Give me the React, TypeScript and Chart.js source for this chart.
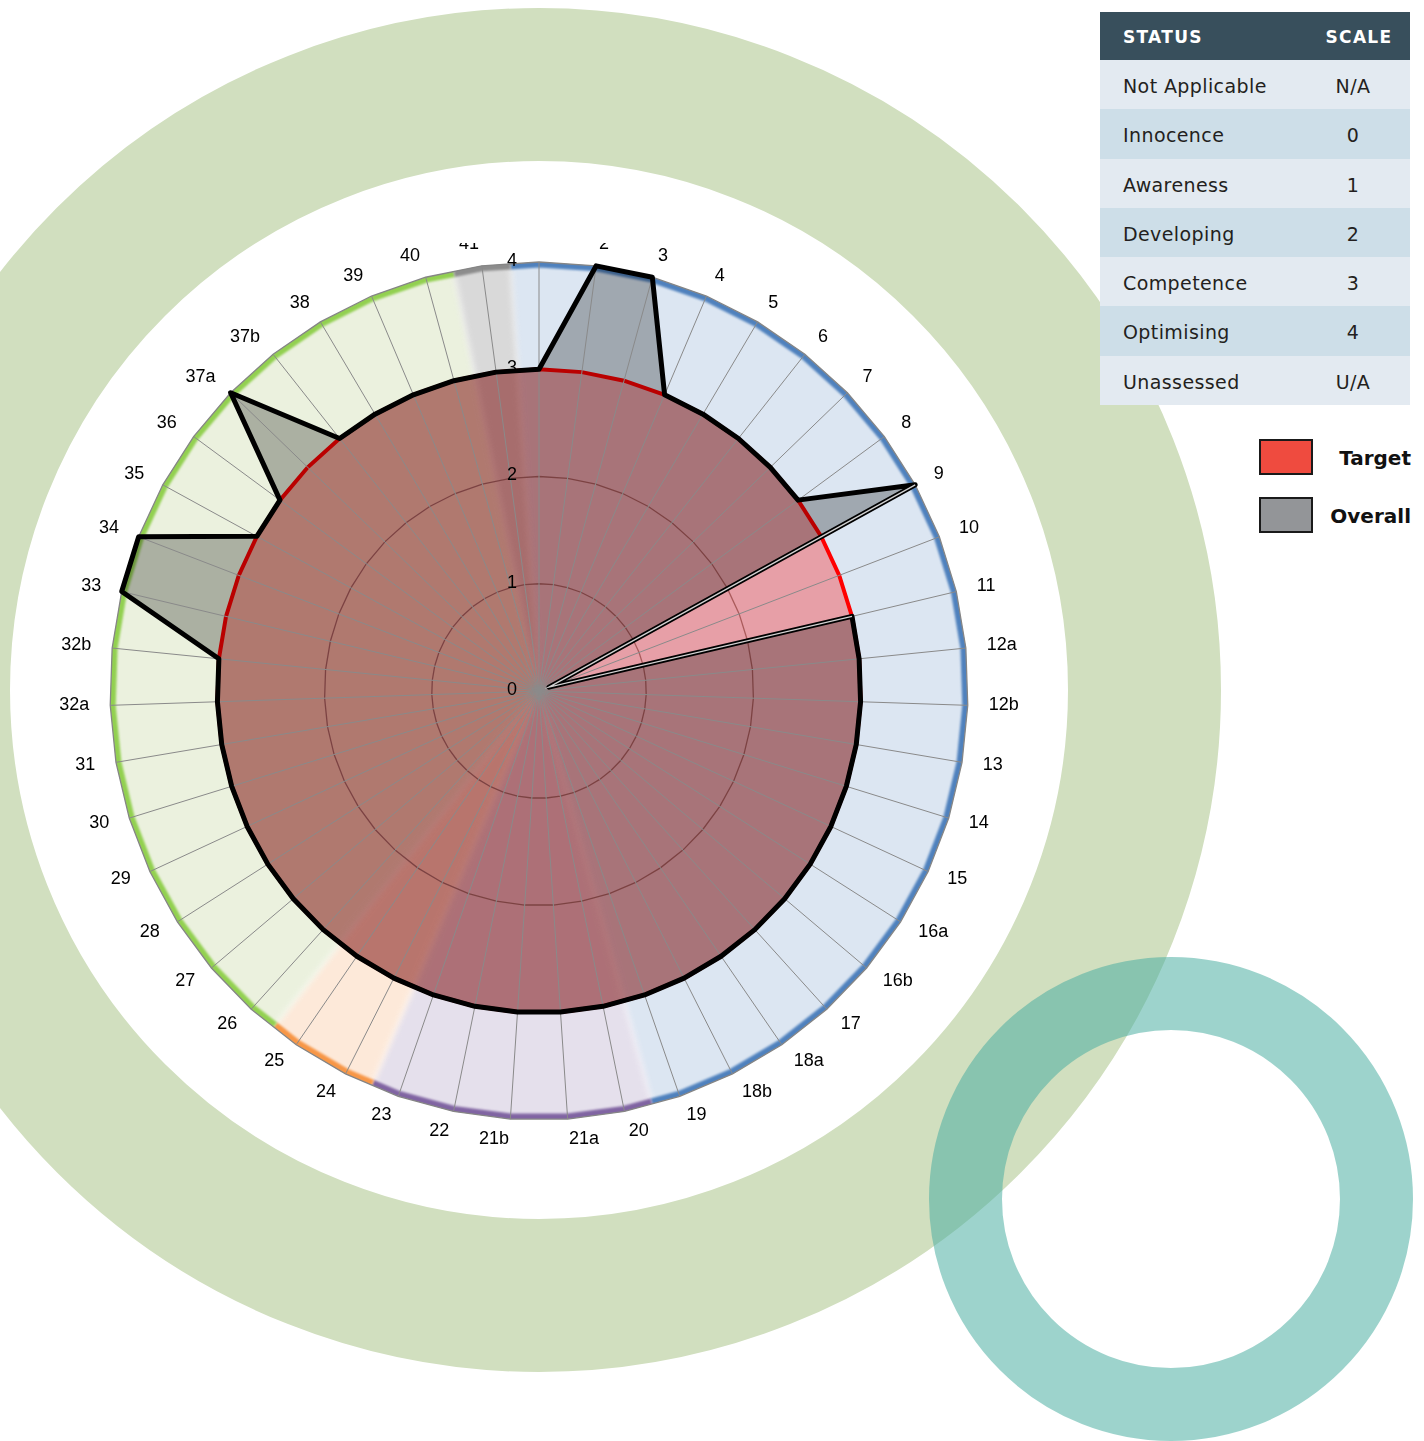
import React, { useEffect, useRef } from 'react';
import { Chart, registerables } from 'chart.js';

Chart.register(...registerables);

// ---------- data ----------
const categories = [
  '1', '2', '3', '4', '5', '6', '7', '8', '9', '10',
  '11', '12a', '12b', '13', '14', '15', '16a', '16b', '17', '18a',
  '18b', '19', '20', '21a', '21b', '22', '23', '24', '25', '26',
  '27', '28', '29', '30', '31', '32a', '32b', '33', '34', '35',
  '36', '37a', '37b', '38', '39', '40', '41',
];

const sections = [
  'blue', 'blue', 'blue', 'blue', 'blue', 'blue', 'blue', 'blue', 'blue', 'blue',
  'blue', 'blue', 'blue', 'blue', 'blue', 'blue', 'blue', 'blue', 'blue', 'blue',
  'blue', 'blue', 'purple', 'purple', 'purple', 'purple', 'purple', 'orange', 'orange', 'green',
  'green', 'green', 'green', 'green', 'green', 'green', 'green', 'green', 'green', 'green',
  'green', 'green', 'green', 'green', 'green', 'green', 'gray',
];

const targetValues = [
  3, 3, 3, 3, 3, 3, 3, 3, 3, 3,
  3, 3, 3, 3, 3, 3, 3, 3, 3, 3,
  3, 3, 3, 3, 3, 3, 3, 3, 3, 3,
  3, 3, 3, 3, 3, 3, 3, 3, 3, 3,
  3, 3, 3, 3, 3, 3, 3,
];

const overallValues = [
  3, 4, 4, 3, 3, 3, 3, 3, 4, 0.1,
  3, 3, 3, 3, 3, 3, 3, 3, 3, 3,
  3, 3, 3, 3, 3, 3, 3, 3, 3, 3,
  3, 3, 3, 3, 3, 3, 3, 4, 4, 3,
  3, 4, 3, 3, 3, 3, 3,
];

// segments of the Overall line that are drawn as a double line
const doubleLineIdx = [8, 9, 10];

const tickValues = [0, 1, 2, 3, 4];

const statusNames = ['Not Applicable', 'Innocence', 'Awareness', 'Developing', 'Competence', 'Optimising', 'Unassessed'];
const statusScales = ['N/A', '0', '1', '2', '3', '4', 'U/A'];

const legendNames = ['Target', 'Overall'];
const legendColors = ['#ef4b3f', '#939598'];

// ---------- styles ----------
const sectionStyle: Record<string, { fill: string; edge: string }> = {
  blue: { fill: '#dce6f2', edge: '#4f81bd' },
  purple: { fill: '#e5e0ec', edge: '#8064a2' },
  orange: { fill: '#fde9d9', edge: '#f79646' },
  green: { fill: '#ebf1de', edge: '#92d050' },
  gray: { fill: '#d9d9d9', edge: '#8c8c8c' },
};

const SIZE = 1000;
const CX = 500;
const CY = 500;
const RADIUS = 429;
const MAX = 4;
const LABEL_FONT = "18px 'Liberation Sans', Arial, sans-serif";

const sectorPlugin = {
  id: 'sectors',
  beforeDraw(chart: any) {
    const scale = chart.scales.r;
    const ctx = chart.ctx;
    const n = categories.length;
    const cx = scale.xCenter;
    const cy = scale.yCenter;
    const rOuter = scale.getDistanceFromCenterForValue(MAX);
    const at = (i: number, d: number) => scale.getPointPosition(((i % n) + n) % n, d);
    const mid = (i: number, d: number) => {
      const a = at(i, d);
      const b = at(i + 1, d);
      return { x: (a.x + b.x) / 2, y: (a.y + b.y) / 2 };
    };
    const runs: { s: string; a: number; b: number }[] = [];
    for (let i = 0; i < n; i++) {
      const last = runs[runs.length - 1];
      if (last && last.s === sections[i]) last.b = i;
      else runs.push({ s: sections[i], a: i, b: i });
    }
    ctx.save();
    ctx.beginPath();
    for (let i = 0; i < n; i++) {
      const p = at(i, rOuter);
      if (i === 0) ctx.moveTo(p.x, p.y);
      else ctx.lineTo(p.x, p.y);
    }
    ctx.closePath();
    ctx.clip();

    ctx.filter = 'blur(3px)';
    runs.forEach((r) => {
      const d = rOuter + 6;
      ctx.beginPath();
      ctx.moveTo(cx, cy);
      const m0 = mid(r.a - 1, d);
      ctx.lineTo(m0.x, m0.y);
      for (let i = r.a; i <= r.b; i++) {
        const p = at(i, d);
        ctx.lineTo(p.x, p.y);
      }
      const m1 = mid(r.b, d);
      ctx.lineTo(m1.x, m1.y);
      ctx.closePath();
      ctx.fillStyle = sectionStyle[r.s].fill;
      ctx.fill();
    });

    ctx.filter = 'blur(1px)';
    runs.forEach((r) => {
      const d = rOuter - 2;
      ctx.beginPath();
      const m0 = mid(r.a - 1, d);
      ctx.moveTo(m0.x, m0.y);
      for (let i = r.a; i <= r.b; i++) {
        const p = at(i, d);
        ctx.lineTo(p.x, p.y);
      }
      const m1 = mid(r.b, d);
      ctx.lineTo(m1.x, m1.y);
      ctx.lineWidth = 7;
      ctx.lineJoin = 'miter';
      ctx.strokeStyle = sectionStyle[r.s].edge;
      ctx.stroke();
    });
    ctx.restore();
  },
  afterDatasetDraw(chart: any, args: any) {
    if (args.index !== 2) return;
    const scale = chart.scales.r;
    const ctx = chart.ctx;
    const rOuter = scale.getDistanceFromCenterForValue(MAX);
    ctx.save();
    ctx.strokeStyle = '#8a8a8a';
    ctx.lineWidth = 1;
    for (let i = 0; i < categories.length; i++) {
      const p = scale.getPointPosition(i, rOuter);
      ctx.beginPath();
      ctx.moveTo(scale.xCenter, scale.yCenter);
      ctx.lineTo(p.x, p.y);
      ctx.stroke();
    }
    ctx.restore();
  },
  afterDraw(chart: any) {
    const scale = chart.scales.r;
    const ctx = chart.ctx;
    ctx.save();
    ctx.font = LABEL_FONT;
    ctx.fillStyle = '#000000';
    ctx.textBaseline = 'middle';
    ctx.textAlign = 'center';
    tickValues.forEach((v) => {
      const p = scale.getPointPositionForValue(0, v);
      ctx.fillText(String(v), scale.xCenter - 27, p.y - 1);
    });
    const d = scale.drawingArea + 21;
    categories.forEach((lab, i) => {
      const p = scale.getPointPosition(i, d + (i === 0 ? 10 : 0));
      const w = ctx.measureText(lab).width;
      const c = Math.cos(p.angle);
      const side = Math.abs(c) < 1e-6 ? 0 : Math.sign(c);
      ctx.fillText(lab, p.x + side * (w / 2), p.y - 1);
    });
    ctx.restore();
  },
};

function RadarChart() {
  const ref = useRef<HTMLCanvasElement | null>(null);
  useEffect(() => {
    if (!ref.current) return;
    const doubleLine = overallValues.map((v, i) => (doubleLineIdx.includes(i) ? v : null));
    const chart = new Chart(ref.current, {
      type: 'radar',
      data: {
        labels: categories,
        datasets: [
          {
            label: 'double',
            data: doubleLine as any,
            borderColor: '#d2d2d2',
            borderWidth: 1.3,
            fill: false,
            pointRadius: 0,
            spanGaps: false,
            order: 0,
          } as any,
          {
            label: 'Overall line',
            data: overallValues,
            borderColor: '#000000',
            borderWidth: 5,
            borderJoinStyle: 'round',
            fill: false,
            pointRadius: 0,
            order: 1,
          } as any,
          {
            label: 'Overall',
            data: overallValues,
            backgroundColor: 'rgba(0,0,0,0.27)',
            borderWidth: 0,
            fill: true,
            pointRadius: 0,
            order: 2,
          } as any,
          {
            label: 'Target',
            data: targetValues,
            backgroundColor: 'rgba(255,0,0,0.31)',
            borderColor: '#ff0000',
            borderWidth: 4,
            fill: true,
            pointRadius: 0,
            order: 3,
          } as any,
        ],
      },
      options: {
        responsive: false,
        animation: false,
        devicePixelRatio: 1,
        plugins: { legend: { display: false }, tooltip: { enabled: false } },
        elements: { line: { tension: 0 } },
        scales: {
          r: {
            min: 0,
            max: MAX,
            ticks: { display: false, stepSize: 1 },
            grid: { color: '#858585', lineWidth: 1.3, circular: false },
            angleLines: { display: false },
            pointLabels: { display: false },
            afterFit: (s: any) => {
              s.xCenter = CX;
              s.yCenter = CY;
              s.drawingArea = RADIUS;
            },
          } as any,
        },
      } as any,
      plugins: [sectorPlugin as any],
    });
    return () => chart.destroy();
  }, []);
  return <canvas ref={ref} width={SIZE} height={SIZE} style={{ width: SIZE, height: SIZE, display: 'block' }} />;
}

export default function App() {
  const rowH = 49.3;
  return (
    <div style={{ position: 'absolute', left: 0, top: 0, width: 1424, height: 1441, overflow: 'hidden', background: '#ffffff' }}>
      <div
        style={{
          position: 'absolute', left: 539 - 682, top: 690 - 682, width: 1364, height: 1364,
          boxSizing: 'border-box', border: '153px solid #d1dfbf', borderRadius: '50%',
        }}
      />
      <div
        style={{
          position: 'absolute', left: 1171 - 242, top: 1199 - 242, width: 484, height: 484,
          boxSizing: 'border-box', border: '73px solid rgba(74,174,161,0.54)', borderRadius: '50%',
        }}
      />
      <div style={{ position: 'absolute', left: 539 - CX, top: 243, width: SIZE, height: 957, overflow: 'hidden' }}>
        <div style={{ position: 'absolute', left: 0, top: 691 - CY - 243 }}>
          <RadarChart />
        </div>
      </div>
      <div style={{ position: 'absolute', left: 1100, top: 12, width: 310, fontFamily: "'DejaVu Sans', sans-serif" }}>
        <div style={{ height: 48, background: '#384f5c', color: '#ffffff', fontWeight: 'bold', fontSize: 17, letterSpacing: 1.3, position: 'relative' }}>
          <div style={{ position: 'absolute', left: 23, top: 1, lineHeight: '48px' }}>STATUS</div>
          <div style={{ position: 'absolute', left: 200, width: 110, textAlign: 'center', top: 1, lineHeight: '48px', paddingLeft: 4 }}>SCALE</div>
        </div>
        {statusNames.map((name, i) => (
          <div key={name} style={{ height: rowH, background: i % 2 === 0 ? '#e3eaf1' : '#cddee8', position: 'relative', color: '#231f20', fontSize: 19, letterSpacing: 0.4 }}>
            <div style={{ position: 'absolute', left: 23, top: 2, lineHeight: rowH + 'px' }}>{name}</div>
            <div style={{ position: 'absolute', left: 198, width: 110, textAlign: 'center', top: 2, lineHeight: rowH + 'px' }}>{statusScales[i]}</div>
          </div>
        ))}
      </div>
      {legendNames.map((name, i) => (
        <React.Fragment key={name}>
          <div style={{ position: 'absolute', left: 1259, top: 439 + i * 58, width: 54, height: 36, boxSizing: 'border-box', border: '2px solid #1a1a1a', background: legendColors[i] }} />
          <div style={{ position: 'absolute', right: 1424 - 1411, top: 439 + i * 58, height: 36, lineHeight: '38px', fontFamily: "'DejaVu Sans', sans-serif", fontWeight: 'bold', fontSize: 20, color: '#111111' }}>{name}</div>
        </React.Fragment>
      ))}
    </div>
  );
}
